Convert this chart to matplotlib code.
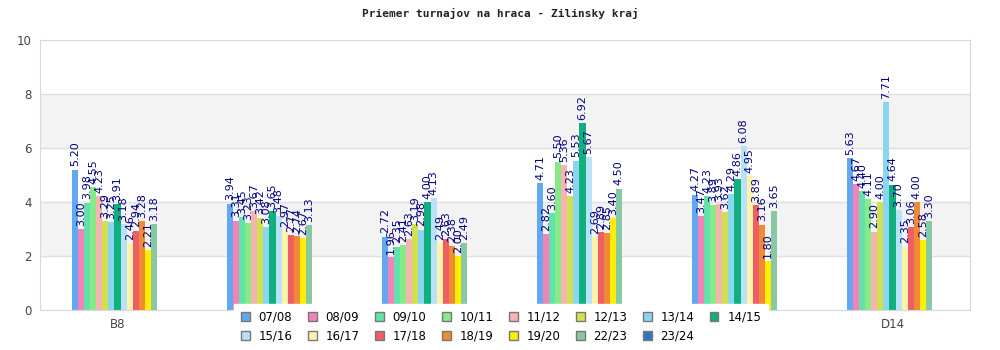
import matplotlib.pyplot as plt
from matplotlib.patches import Patch
import numpy as np

# districts (middle labels sit behind the legend)
groups = ['B8', 'B9', 'C10', 'C11', 'D13', 'D14']
seasons = ['07/08', '08/09', '09/10', '10/11', '11/12', '12/13', '13/14', '14/15',
           '15/16', '16/17', '17/18', '18/19', '19/20', '22/23', '23/24']
colors = ['#62a8ee', '#f282b8', '#62e2aa', '#86ea86', '#f4b4b0', '#d2e04e', '#8ad6f0',
          '#10b07e', '#b8e2f8', '#fff2aa', '#ee5e62', '#f08a34', '#ffee00', '#88c8a2', '#2e74c0']

# average tournaments per player, one list per district
b8 = [5.20, 3.00, 3.98, 4.55, 4.23, 3.29, 3.25, 3.91, 3.18, 2.46, 2.94, 3.28, 2.21, 3.18, np.nan]
b9 = [3.94, 3.31, 3.45, 3.23, 3.67, 3.42, 3.08, 3.65, 3.48, 2.97, 2.77, 2.74, 2.67, 3.13, np.nan]
c10 = [2.72, 1.96, 2.35, 2.41, 2.63, 3.19, 2.98, 4.00, 4.13, 2.49, 2.63, 2.38, 2.00, 2.49, np.nan]
c11 = [4.71, 2.82, 3.60, 5.50, 5.36, 4.23, 5.53, 6.92, 5.67, 2.69, 2.89, 2.85, 3.40, 4.50, np.nan]
d13 = [4.27, 3.47, 4.23, 3.89, 3.93, 3.62, 4.29, 4.86, 6.08, 4.95, 3.89, 3.16, 1.80, 3.65, np.nan]
d14 = [5.63, 4.67, 4.40, 4.11, 2.90, 4.00, 7.71, 4.64, 3.70, 2.35, 3.06, 4.00, 2.58, 3.30, np.nan]
values = np.array([b8, b9, c10, c11, d13, d14])

fig = plt.figure(figsize=(10, 3.5), dpi=100)
ax = fig.add_axes([0.04, 40 / 350, 0.93, 270 / 350])

# alternating bands + grid
for lo in (2, 6):
    ax.axhspan(lo, lo + 2, color='#f3f3f3', zorder=0)
for y in (2, 4, 6, 8):
    ax.axhline(y, color='#e0e0e0', lw=1, zorder=0.5)

x = np.arange(len(groups))
n = len(seasons)
group_w = 0.587
w = group_w / n
for i in range(n):
    xs = x - group_w / 2 + w * (i + 0.5)
    vals = values[:, i]
    ax.bar(xs, vals, width=w, color=colors[i], zorder=2)
    for xx, v in zip(xs, vals):
        if np.isnan(v):
            continue
        ax.text(xx, v + 0.12, '%.2f' % v, rotation=90, ha='center', va='bottom',
                fontsize=8, color='#000080', zorder=3)

ax.set_xlim(-0.5, len(groups) - 0.5)
ax.set_ylim(0, 10)
ax.set_yticks([0, 2, 4, 6, 8, 10])
ax.set_xticks(x)
ax.set_xticklabels(groups)
ax.tick_params(length=0, colors='#444444', labelsize=8.5, pad=6)
for s in ax.spines.values():
    s.set_color('#d8d8d8')

fig.text(0.5, 1 - 13 / 350, 'Priemer turnajov na hraca - Zilinsky kraj',
         ha='center', va='center', family='DejaVu Sans Mono', fontweight='bold',
         fontsize=8, color='#222222')

# legend, filled row by row
handles = [Patch(facecolor=c, edgecolor='#777777', lw=1) for c in colors]
order = []
for k in range(8):
    order.append(k)
    if k + 8 < n:
        order.append(k + 8)
leg = fig.legend([handles[k] for k in order], [seasons[k] for k in order],
                 ncol=8, loc='lower center', bbox_to_anchor=(0.501, -0.016),
                 frameon=True, fontsize=8.5, handlelength=0.75, handleheight=0.75,
                 handletextpad=0.75, columnspacing=1.3, labelspacing=0.5,
                 borderpad=0.6, fancybox=False)
leg.get_frame().set_edgecolor('white')
leg.get_frame().set_facecolor('white')
leg.get_frame().set_alpha(1)
leg.set_zorder(10)

fig.savefig('out.png', dpi=100)
